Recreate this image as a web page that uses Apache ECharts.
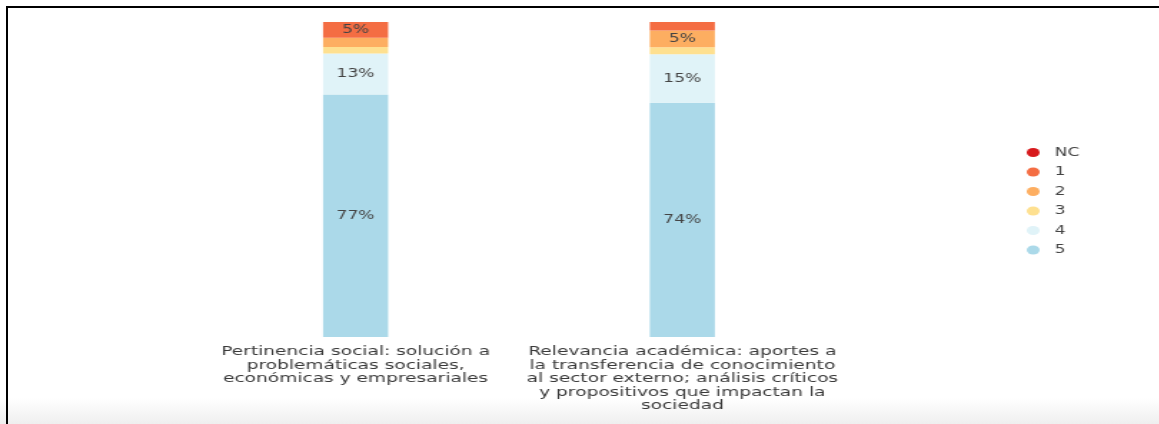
<!DOCTYPE html>
<html>
<head>
<meta charset="utf-8">
<script src="https://cdn.jsdelivr.net/npm/echarts@6/dist/echarts.min.js"></script>
<style>
  html, body { margin: 0; padding: 0; width: 1159px; height: 424px; overflow: hidden;
    background: linear-gradient(to bottom, #ffffff 0px, #ffffff 398px, #efefef 424px); }
  #frame { position: absolute; left: 6px; top: 6px; width: 1153px; height: 418px;
    border-top: 2px solid #000; border-left: 2px solid #000; box-sizing: border-box; }
  #chart { position: absolute; left: 0; top: 0; width: 811px; height: 424px;
    transform: scaleX(1.43); transform-origin: 0 0; }
</style>
</head>
<body>
<div id="frame"></div>
<div id="chart"></div>
<script>
const categories = [
  "Pertinencia social: solución a\nproblemáticas sociales,\neconómicas y empresariales",
  "Relevancia académica: aportes a\nla transferencia de conocimiento\nal sector externo; análisis críticos\ny propositivos que impactan la\nsociedad"
];
const seriesNames = ["5", "4", "3", "2", "1", "NC"];
const values5 = [77, 74.4];
const values4 = [13, 15.4];
const values3 = [2.1, 2.2];
const values2 = [2.9, 5.3];
const values1 = [5, 2.7];
const valuesNC = [0, 0];
const colors = {"NC": "#d7191c", "1": "#f46d43", "2": "#fdae61", "3": "#fee090", "4": "#e0f3f8", "5": "#abd9e9"};
const dataBySeries = {"5": values5, "4": values4, "3": values3, "2": values2, "1": values1, "NC": valuesNC};
const legendOrder = ["NC", "1", "2", "3", "4", "5"];

const chart = echarts.init(document.getElementById('chart'), null, {renderer: 'canvas'});
const font = 'DejaVu Sans';
chart.setOption({
  animation: false,
  backgroundColor: 'transparent',
  grid: {left: 134.4, right: 219.6, top: 22, bottom: 87, containLabel: false},
  legend: {
    orient: 'vertical', left: 718, top: 146.5, padding: 0, itemGap: 7.5, itemWidth: 12, itemHeight: 9,
    icon: 'path://M0,5a5,5 0 1,0 10,0a5,5 0 1,0 -10,0', data: legendOrder,
    textStyle: {fontFamily: font, fontSize: 12, color: '#444', padding: [0, 0, 0, 4]}
  },
  xAxis: {
    type: 'category', data: categories,
    axisLine: {show: false}, axisTick: {show: false},
    axisLabel: {interval: 0, margin: 8, fontFamily: font, fontSize: 13, lineHeight: 13.5, color: '#3a3a3a', align: 'center'}
  },
  yAxis: {type: 'value', min: 0, max: 100, show: false, splitLine: {show: false}},
  series: seriesNames.map(n => ({
    name: n, type: 'bar', stack: 'total', barWidth: 45.5,
    itemStyle: {color: colors[n]},
    label: {
      show: true, position: 'inside', fontFamily: font, fontSize: 12, color: '#444',
      formatter: p => p.value >= 4.5 ? Math.round(p.value) + '%' : ''
    },
    data: dataBySeries[n]
  }))
});
</script>
</body>
</html>
